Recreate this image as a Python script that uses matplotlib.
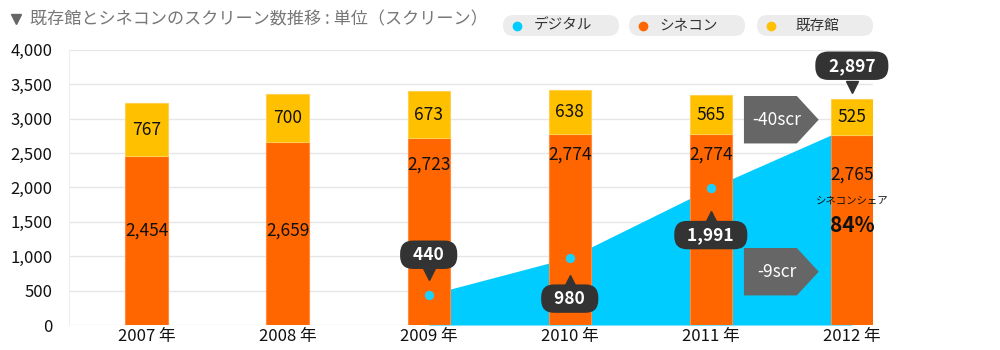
import matplotlib
matplotlib.use('Agg')
import matplotlib.pyplot as plt
from matplotlib.patches import FancyBboxPatch, Polygon
from matplotlib import transforms
import numpy as np

plt.rcParams['font.family'] = ['Noto Sans CJK JP', 'DejaVu Sans']

years = ['2007 年', '2008 年', '2009 年', '2010 年', '2011 年', '2012 年']
cinecon = [2454, 2659, 2723, 2774, 2774, 2765]
existing = [767, 700, 673, 638, 565, 525]
digital_idx = [2, 3, 4, 5]
digital = [440, 980, 1991, 2897]
# height at which each cinecon value is written
cinecon_label_y = [1370, 1370, 2330, 2480, 2480, 2190]

title = '既存館とシネコンのスクリーン数推移 : 単位（スクリーン）'
legend_names = ['デジタル', 'シネコン', '既存館']

c_blue = '#00ccff'
c_orange = '#ff6600'
c_yellow = '#ffc000'
c_dark = '#333333'

fig = plt.figure(figsize=(10, 3.5), dpi=100)
ax = fig.add_axes([0.069, 0.0714, 0.804, 0.786])

x = np.arange(len(years))
w = 0.3

# digital screens as a filled area behind the bars
ax.fill_between(digital_idx, 0, digital, color=c_blue, lw=0, zorder=1)

ax.bar(x, cinecon, w, color=c_orange, edgecolor='#ff8a40', lw=0.8, zorder=2)
ax.bar(x, existing, w, bottom=cinecon, color=c_yellow, edgecolor='#ffd050', lw=0.8, zorder=2)

for i in x:
    ax.text(i, cinecon_label_y[i], f'{cinecon[i]:,}', ha='center', va='center',
            fontsize=12.5, color='#111111', zorder=5)
    ax.text(i, cinecon[i] + existing[i] / 2, f'{existing[i]:,}', ha='center', va='center',
            fontsize=12.5, color='#111111', zorder=5)

ax.scatter(digital_idx[:3], digital[:3], s=45, color='#1ad0ff', lw=0, zorder=4)


def callout(xv, yv, label, dy, tip):
    # dark rounded label with a small triangle pointer
    box_tr = transforms.offset_copy(ax.transData, fig=fig, x=0, y=dy, units='dots')
    ax.text(xv, yv, f'  {label}  ', transform=box_tr, ha='center', va='center',
            fontsize=12.5, fontweight='bold', color='white', zorder=7,
            bbox=dict(boxstyle='round,pad=0.3,rounding_size=0.75', fc=c_dark, ec='none'))
    tip_tr = transforms.offset_copy(ax.transData, fig=fig, x=0, y=tip, units='dots')
    ax.plot([xv], [yv], marker='v' if tip > 0 else '^', ms=9, color=c_dark,
            transform=tip_tr, zorder=6, clip_on=False)


callout(digital_idx[0], digital[0], f'{digital[0]:,}', 40, 21)
callout(digital_idx[1], digital[1], f'{digital[1]:,}', -41, -23)
callout(digital_idx[2], digital[2], f'{digital[2]:,}', -47, -29)
callout(digital_idx[3], cinecon[-1] + existing[-1], f'{digital[3]:,}', 33, 12)

# change markers between 2011 and 2012
def chevron(xc, yc, label):
    x0, x1, xp = xc - 0.265, xc + 0.11, xc + 0.265
    h = 345
    pts = [(x0, yc - h), (x1, yc - h), (xp, yc), (x1, yc + h), (x0, yc + h)]
    ax.add_patch(Polygon(pts, closed=True, fc='#666666', ec='none', zorder=6))
    ax.text(xc - 0.03, yc, label, ha='center', va='center', color='white',
            fontsize=12.5, zorder=7)


chevron(4.5, 2985, f'{existing[5] - existing[4]}scr')
chevron(4.5, 775, f'{cinecon[5] - cinecon[4]}scr')

share = cinecon[-1] / (cinecon[-1] + existing[-1])
ax.text(5, 1815, 'シネコンシェア', ha='center', va='center', fontsize=7.5, color='#111111', zorder=5)
ax.text(5, 1450, f'{share:.0%}', ha='center', va='center', fontsize=15,
        fontweight='bold', color='#111111', zorder=5)

ax.set_xlim(-0.55, 5.15)
ax.set_ylim(0, 4000)
ax.set_yticks(np.arange(0, 4001, 500))
ax.set_yticklabels([f'{v:,}' for v in range(0, 4001, 500)])
ax.set_xticks(x)
ax.set_xticklabels(years)
ax.tick_params(axis='both', length=0, labelsize=12, colors='#111111')
ax.tick_params(axis='y', pad=12)
ax.tick_params(axis='x', pad=2)
ax.grid(axis='y', color='#e6e6e6', lw=1)
ax.set_axisbelow(True)
for side in ['top', 'right', 'bottom']:
    ax.spines[side].set_visible(False)
ax.spines['left'].set_color('#eeeeee')

# header: title and legend pills, laid out in pixel units
hdr = fig.add_axes([0, 0, 1, 1], zorder=10)
hdr.set_xlim(0, 1000)
hdr.set_ylim(350, 0)
hdr.axis('off')
hdr.plot([16], [19], marker='v', ms=7, color='#666666')
hdr.text(30, 19, title, ha='left', va='center', fontsize=12.3, color='#777777')

legend_colors = [c_blue, c_orange, c_yellow]
pill_x = [503, 629, 757]
for px, name, col in zip(pill_x, legend_names, legend_colors):
    hdr.add_patch(FancyBboxPatch((px, 15), 116, 21, boxstyle='round,pad=0,rounding_size=10.5',
                                 fc='#ececec', ec='none'))
    hdr.plot([px + 14], [25.5], marker='o', ms=6, color=col)
    hdr.text(px + 60, 25.5, name, ha='center', va='center', fontsize=10.5, color='#333333')

fig.savefig('out.png', dpi=100, facecolor='white')
